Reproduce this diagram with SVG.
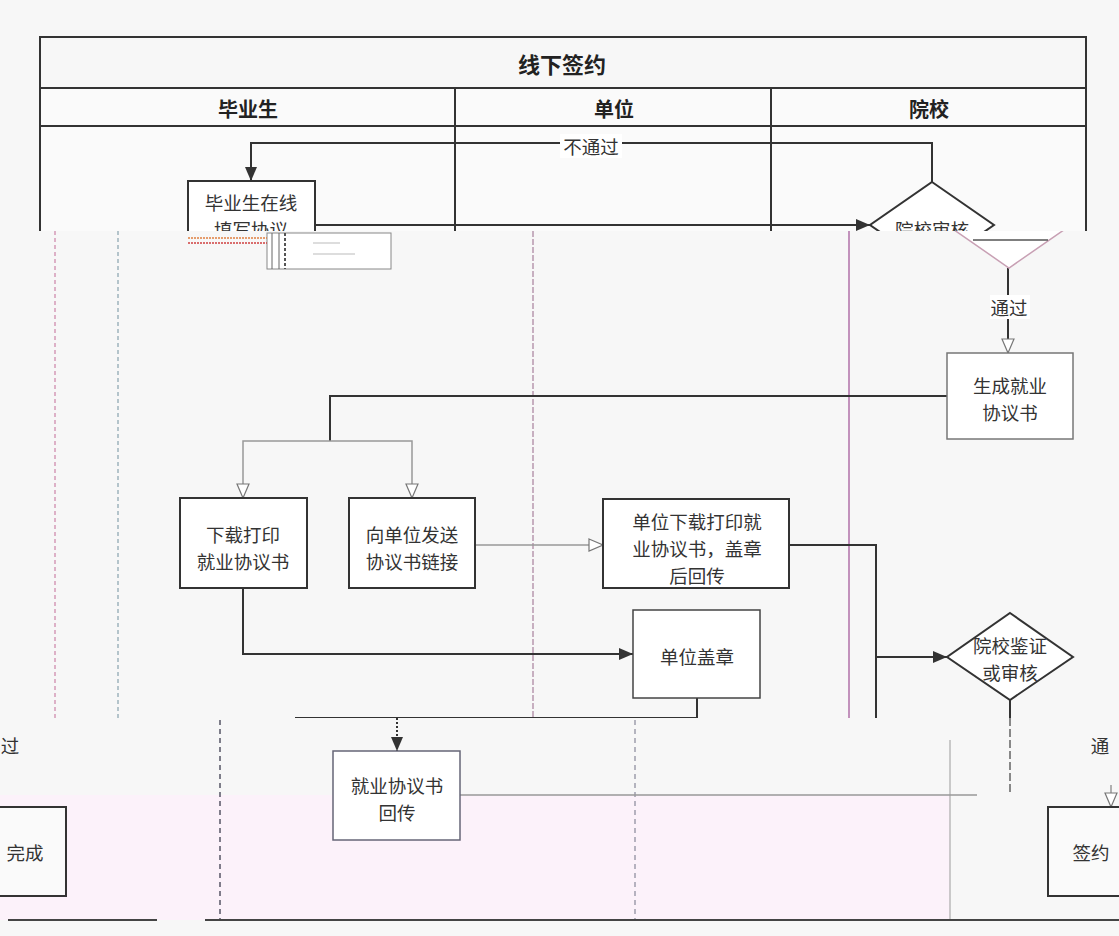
<svg xmlns="http://www.w3.org/2000/svg" width="1119" height="936" viewBox="0 0 1119 936">
<style>
.t{font-family:"Noto Sans CJK SC","Liberation Sans",sans-serif;font-size:18.5px;fill:#333;text-anchor:middle;dominant-baseline:central}
.h{font-weight:bold;fill:#222;font-size:20px}
.box{fill:#fff;stroke:#333;stroke-width:2}
.lite{fill:#fff;stroke:#777;stroke-width:1.5}
.fr{fill:none;stroke:#333;stroke-width:2}
.c{fill:none;stroke:#333;stroke-width:2}
.cl{fill:none;stroke:#999;stroke-width:1.5}
</style>
<defs>
<clipPath id="topb"><rect x="0" y="0" width="1119" height="231"/></clipPath>
<clipPath id="midb"><rect x="0" y="231" width="1119" height="487"/></clipPath>
<clipPath id="botb"><rect x="0" y="718" width="1119" height="218"/></clipPath>
<marker id="af" markerUnits="userSpaceOnUse" markerWidth="14" markerHeight="12" refX="14" refY="6" orient="auto"><path d="M0,0 L14,6 L0,12 z" fill="#333"/></marker>
<marker id="ah" markerUnits="userSpaceOnUse" markerWidth="16" markerHeight="14" refX="15" refY="7" orient="auto"><path d="M1,1 L15,7 L1,13 z" fill="#fff" stroke="#777" stroke-width="1.2"/></marker>
</defs>
<rect x="0" y="0" width="1119" height="936" fill="#f7f7f7"/>
<rect x="0" y="795" width="950" height="125" fill="#fcf2fa"/>

<g id="frame">
 <g clip-path="url(#topb)">
  <rect x="40" y="88" width="1046" height="200" fill="#fafafa" stroke="none"/>
  <rect x="40" y="37" width="1046" height="51" fill="#fff" class="fr"/>
  <rect x="40" y="88" width="1046" height="38" fill="#fff" class="fr"/>
  <line x1="455" y1="88" x2="455" y2="231" class="fr"/>
  <line x1="771" y1="88" x2="771" y2="231" class="fr"/>
  <line x1="40" y1="126" x2="40" y2="231" class="fr"/>
  <line x1="1086" y1="126" x2="1086" y2="231" class="fr"/>
  <text class="t h" x="562" y="63" style="font-size:22px">线下签约</text>
  <text class="t h" x="248" y="108">毕业生</text>
  <text class="t h" x="614" y="108">单位</text>
  <text class="t h" x="929" y="108">院校</text>
 </g>
 <g clip-path="url(#midb)">
  <line x1="55" y1="231" x2="55" y2="718" stroke="#d59ab8" stroke-width="1.5" stroke-dasharray="4,3"/>
  <line x1="118" y1="231" x2="118" y2="718" stroke="#9fb4bd" stroke-width="1.5" stroke-dasharray="4,3"/>
  <line x1="533" y1="231" x2="533" y2="718" stroke="#b898ae" stroke-width="1.5" stroke-dasharray="6,2"/>
  <line x1="849" y1="231" x2="849" y2="718" stroke="#b070a8" stroke-width="1.5"/>
 </g>
 <g clip-path="url(#botb)">
  <line x1="220" y1="720" x2="220" y2="920" stroke="#556" stroke-width="1.5" stroke-dasharray="5,4"/>
  <line x1="635" y1="720" x2="635" y2="920" stroke="#889" stroke-width="1.2" stroke-dasharray="5,4"/>
  <line x1="950" y1="740" x2="950" y2="920" stroke="#aaa" stroke-width="1.2"/>
  <line x1="460" y1="795" x2="977" y2="795" stroke="#999" stroke-width="1.5"/>
  <line x1="205" y1="920" x2="1119" y2="920" stroke="#444" stroke-width="2"/>
  <line x1="8" y1="920" x2="157" y2="920" stroke="#444" stroke-width="2"/>
 </g>
 <g id="artifact" clip-path="url(#midb)">
  <rect x="267" y="233" width="124" height="36" fill="#fff" stroke="#888" stroke-width="1"/>
  <line x1="272" y1="233" x2="272" y2="269" stroke="#666" stroke-width="1"/>
  <line x1="279" y1="233" x2="279" y2="269" stroke="#666" stroke-width="1"/>
  <line x1="285" y1="233" x2="285" y2="269" stroke="#555" stroke-width="2" stroke-dasharray="3,2"/>
  <line x1="188" y1="238" x2="267" y2="238" stroke="#e08040" stroke-width="1.5" stroke-dasharray="2,1"/>
  <line x1="188" y1="243" x2="267" y2="243" stroke="#d04040" stroke-width="1.5" stroke-dasharray="2,1"/>
  <line x1="313" y1="243" x2="340" y2="243" stroke="#bbb" stroke-width="1"/>
  <line x1="313" y1="254" x2="355" y2="254" stroke="#bbb" stroke-width="1"/>
 </g>
</g>

<g id="connectors">
 <g clip-path="url(#topb)">
  <path class="c" d="M932,182 V143 H251 V181" marker-end="url(#af)"/>
  <rect x="560" y="134" width="62" height="24" fill="#fff"/>
  <text class="t" x="591" y="146">不通过</text>
  <path class="c" d="M315,225 H870" marker-end="url(#af)"/>
 </g>
 <g clip-path="url(#midb)">
  <path class="c" d="M1008,268 V353" marker-end="url(#ah)"/>
  <rect x="990" y="295" width="40" height="24" fill="#fff"/>
  <text class="t" x="1009" y="307">通过</text>
  <path class="c" d="M947,396 H330 V441"/>
  <path class="cl" d="M330,441 H243 V498" marker-end="url(#ah)"/>
  <path class="cl" d="M330,441 H412 V498" marker-end="url(#ah)"/>
  <path class="cl" d="M475,545 H603" marker-end="url(#ah)"/>
  <path class="c" d="M243,588 V654 H633" marker-end="url(#af)"/>
  <path class="c" d="M789,545 H876 V718"/>
  <path class="c" d="M876,657 H947" marker-end="url(#af)"/>
  <path class="c" d="M697,698 V718 H295"/>
  <path class="c" d="M1010,700 V718"/>
 </g>
 <g clip-path="url(#botb)">
  <path d="M397,718 V751" fill="none" stroke="#333" stroke-width="2" stroke-dasharray="2,2" marker-end="url(#af)"/>
  <path d="M1010,718 V795" fill="none" stroke="#888" stroke-width="2" stroke-dasharray="8,3"/>
  <text class="t" x="1100" y="745">通</text>
  <text class="t" x="10" y="745">过</text>
  <path class="cl" d="M1111,785 V807" marker-end="url(#ah)"/>
 </g>
</g>

<g id="n1" clip-path="url(#topb)">
 <rect class="box" x="188" y="181" width="127" height="88"/>
 <text class="t" x="251" y="202">毕业生在线<tspan x="251" dy="27">填写协议</tspan></text>
</g>
<g id="n2">
 <g clip-path="url(#topb)">
  <polygon class="box" points="932,182 994,225 932,268 870,225"/>
  <text class="t" x="932" y="229">院校审核</text>
 </g>
 <g clip-path="url(#midb)">
  <polygon points="1009,182 1071,225 1009,268 947,225" fill="#fff" stroke="#c8a0b4" stroke-width="1.5"/>
  <line x1="973" y1="240" x2="1048" y2="240" stroke="#555" stroke-width="1.5"/>
 </g>
</g>
<g id="n3">
 <rect class="lite" x="947" y="353" width="126" height="86"/>
 <text class="t" x="1010" y="385">生成就业<tspan x="1010" dy="27">协议书</tspan></text>
</g>
<g id="n4">
 <rect class="box" x="180" y="498" width="127" height="90"/>
 <text class="t" x="243" y="534">下载打印<tspan x="243" dy="27">就业协议书</tspan></text>
</g>
<g id="n5">
 <rect class="box" x="349" y="498" width="126" height="90"/>
 <text class="t" x="412" y="534">向单位发送<tspan x="412" dy="27">协议书链接</tspan></text>
</g>
<g id="n6">
 <rect class="box" x="603" y="499" width="186" height="89"/>
 <text class="t" x="697" y="521">单位下载打印就<tspan x="697" dy="27">业协议书，盖章</tspan><tspan x="697" dy="27">后回传</tspan></text>
</g>
<g id="n7">
 <rect class="lite" x="633" y="610" width="127" height="88" style="stroke:#444"/>
 <text class="t" x="697" y="656">单位盖章</text>
</g>
<g id="n8">
 <polygon class="box" points="1010,613 1073,657 1010,700 947,657"/>
 <text class="t" x="1010" y="645">院校鉴证<tspan x="1010" dy="27">或审核</tspan></text>
</g>
<g id="n9">
 <rect class="lite" x="333" y="751" width="127" height="89" style="stroke:#667"/>
 <text class="t" x="397" y="785">就业协议书<tspan x="397" dy="27">回传</tspan></text>
</g>
<g id="n10">
 <rect class="box" x="1048" y="807" width="127" height="89" style="fill:#fafafa"/>
 <text class="t" x="1091" y="852">签约</text>
 <rect class="box" x="-63" y="807" width="129" height="89" style="fill:#fafafa"/>
 <text class="t" x="25" y="852">完成</text>
</g>
</svg>
